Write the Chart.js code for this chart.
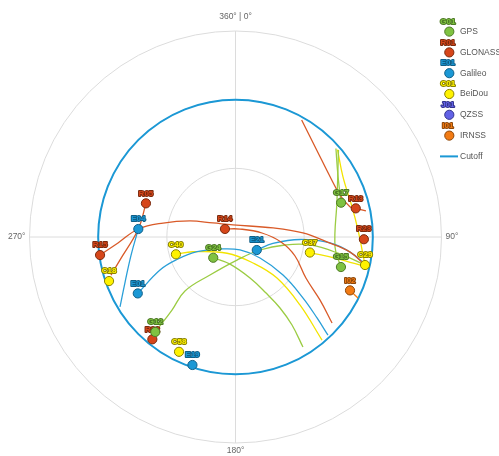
<!DOCTYPE html>
<html><head><meta charset="utf-8">
<script src="https://cdn.jsdelivr.net/npm/chart.js@4.4.0/dist/chart.umd.min.js"></script>
<style>html,body{margin:0;padding:0;background:#fff;}#wrap{width:499px;height:456px;position:relative;}</style>
</head><body><div id="wrap"><canvas id="c"></canvas></div>
<script>
// ---- systems / legend ----
const systemIds = ['G','R','E','C','J','I'];
const systemNames = ['GPS','GLONASS','Galileo','BeiDou','QZSS','IRNSS'];
const systemSamples = ['G01','R01','E01','C01','J01','I01'];
const systemFill = ['#7fc241','#d6461a','#1b98d5','#fff200','#6262e6','#f27b14'];
const systemStroke = ['#4d7a25','#7a2a0e','#105f87','#8a8200','#34348c','#8c4608'];
const systemTrack = ['#9bcc43','#d95a28','#2a9fd8','#f3e400','#6262e6','#f27b14'];
const directionLabels = ['360° | 0°','90°','180°','270°'];
const gridElevations = [0, 30, 60];
const cutoffElevation = 30;
const cutoffLabel = 'Cutoff';
const cutoffColor = '#1b98d5';

// ---- satellites (azimuth deg, elevation deg) ----
const satNames = ['R15','R05','E04','C18','E01','R14','C40','G24','E21','C37','G17','R13','R23','G15','C29','I02','R22','G12','C58','E19'];
const satAz    = [262.4,290.6,274.7,250.8,240.0,307.3,253.8,227.0,121.5,101.8, 72.0, 76.6, 91.0,105.9,102.2,115.0,219.1,220.2,206.2,198.6];
const satEl    = [ 30.3, 48.2, 47.4, 31.5, 40.7, 84.2, 62.9, 76.7, 79.1, 56.8, 41.5, 36.0, 33.9, 42.1, 32.1, 34.8, 32.4, 35.7, 34.1, 31.0];

// ---- tracks ----
const trkR15Az = [262.4,267.1,274.7,280.9,289.4,301.9,348.2,76.5,86.6,93.1,97.5,101.9];
const trkR15El = [30.3,38.6,47.4,57.8,68.9,78.4,84.6,73.1,60.5,50.0,39.5,32.6];
const trkR14Az = [307.3,29.4,81.4,96.3,107.7,120.2,126.7,131.7];
const trkR14El = [84.2,86.0,78.3,70.0,62.7,54.4,44.0,33.5];
const trkR05Az = [290.6,274.7,258.7,253.0];
const trkR05El = [48.2,47.4,38.5,33.1];
const trkR13Az = [29.5,43.0,57.5,68.1,75.2,76.6,78.7];
const trkR13El = [31.3,38.0,41.0,40.8,38.3,36.0,31.9];
const trkI02Az = [115.0,116.5];
const trkI02El = [34.8,30.2];
const trkE04Az = [274.7,260.2,247.8,238.8];
const trkE04El = [47.4,43.7,37.9,31.0];
const trkE01Az = [240.0,246.4,249.0,249.1,232.3,160.9,130.6,128.7,132.1,134.8,136.7];
const trkE01El = [40.7,54.0,62.6,72.0,81.4,84.0,75.9,63.4,50.2,39.8,31.1];
const trkE21Az = [121.5,99.8,92.2,93.6,97.5,102.4];
const trkE21El = [79.1,73.4,61.8,48.6,39.5,31.2];
const trkG24Az = [227.0,191.5,160.5,151.4,147.9,147.3,148.5];
const trkG24El = [76.7,77.9,71.0,62.1,53.4,44.3,33.6];
const trkG12Az = [220.2,221.0,223.1,213.9,176.3,118.0,99.2,96.1,99.2,102.0];
const trkG12El = [35.7,47.7,57.7,70.0,79.9,77.9,68.1,57.3,43.7,33.1];
const trkG17Az = [48.6,58.8,72.0];
const trkG17El = [31.5,37.7,41.5];
const trkG15Az = [49.8,70.0,95.7,105.9];
const trkG15El = [31.1,42.8,46.3,42.1];
const trkC40Az = [253.8,250.9,207.5,146.0,134.7,136.5,140.0];
const trkC40El = [62.9,70.3,82.0,76.3,64.5,49.1,31.2];
const trkC37Az = [101.8,102.0,102.9];
const trkC37El = [56.8,44.7,31.5];
const trkC29Az = [49.4,60.8,75.6,86.7,102.2];
const trkC29El = [31.3,36.2,37.4,36.4,32.1];

const tracks = [
  ['R',trkR15Az,trkR15El],['R',trkR14Az,trkR14El],['R',trkR05Az,trkR05El],['R',trkR13Az,trkR13El],
  ['I',trkI02Az,trkI02El],
  ['E',trkE04Az,trkE04El],['E',trkE01Az,trkE01El],['E',trkE21Az,trkE21El],
  ['G',trkG24Az,trkG24El],['G',trkG12Az,trkG12El],['G',trkG17Az,trkG17El],['G',trkG15Az,trkG15El],
  ['C',trkC40Az,trkC40El],['C',trkC37Az,trkC37El],['C',trkC29Az,trkC29El]
];

function toXY(az, el){
  const r = (90 - el) / 90, a = az * Math.PI / 180;
  return {x: r * Math.sin(a), y: r * Math.cos(a)};
}
function sysIndex(id){ return systemIds.indexOf(id); }

const datasets = [];
tracks.forEach(t => {
  const s = sysIndex(t[0]);
  datasets.push({
    data: t[1].map((a,i) => toXY(a, t[2][i])),
    showLine: true, borderColor: systemTrack[s], borderWidth: 1.3,
    pointRadius: 0, tension: 0.4, fill: false, order: 1000
  });
});
satNames.forEach((n,i) => {
  const s = sysIndex(n[0]);
  datasets.push({
    data: [toXY(satAz[i], satEl[i])],
    satLabel: n, sys: s,
    pointRadius: 4.6, pointBackgroundColor: systemFill[s], pointBorderColor: systemStroke[s],
    pointBorderWidth: 1, order: 500 - i
  });
});

function drawTag(ctx, text, x, y, s){
  ctx.save();
  ctx.font = 'bold 8px "Liberation Sans", Arial, sans-serif';
  ctx.textAlign = 'center'; ctx.textBaseline = 'middle';
  ctx.lineJoin = 'round'; ctx.lineWidth = 2; ctx.strokeStyle = systemStroke[s];
  ctx.strokeText(text, x, y);
  ctx.fillStyle = systemFill[s];
  ctx.fillText(text, x, y);
  ctx.restore();
}

const skyPlugin = {
  id: 'sky',
  beforeDatasetsDraw(chart){
    const ctx = chart.ctx, xs = chart.scales.x, ys = chart.scales.y;
    const cx = xs.getPixelForValue(0), cy = ys.getPixelForValue(0);
    const R = xs.getPixelForValue(1) - cx;
    ctx.save();
    ctx.strokeStyle = '#dcdcdc'; ctx.lineWidth = 1;
    gridElevations.forEach(e => {
      ctx.beginPath(); ctx.arc(cx, cy, xs.getPixelForValue((90-e)/90) - cx, 0, Math.PI*2); ctx.stroke();
    });
    ctx.beginPath();
    ctx.moveTo(cx, cy - R); ctx.lineTo(cx, cy + R);
    ctx.moveTo(cx - R, cy); ctx.lineTo(cx + R, cy);
    ctx.stroke();
    ctx.strokeStyle = cutoffColor; ctx.lineWidth = 2;
    ctx.beginPath(); ctx.arc(cx, cy, xs.getPixelForValue((90-cutoffElevation)/90) - cx, 0, Math.PI*2); ctx.stroke();
    ctx.restore();
  },
  afterDatasetDraw(chart, args){
    const ds = chart.data.datasets[args.index];
    if (!ds.satLabel) return;
    const pt = args.meta.data[0];
    drawTag(chart.ctx, ds.satLabel, pt.x, pt.y - 10, ds.sys);
  },
  afterDraw(chart){
    const ctx = chart.ctx, xs = chart.scales.x, ys = chart.scales.y;
    const cx = xs.getPixelForValue(0), cy = ys.getPixelForValue(0);
    const R = xs.getPixelForValue(1) - cx;
    ctx.save();
    ctx.fillStyle = '#666'; ctx.font = '8.5px "Liberation Sans", Arial, sans-serif';
    ctx.textBaseline = 'middle';
    ctx.textAlign = 'center'; ctx.fillText(directionLabels[0], cx, cy - R - 14);
    ctx.textAlign = 'left'; ctx.fillText(directionLabels[1], cx + R + 4, cy);
    ctx.textAlign = 'center'; ctx.fillText(directionLabels[2], cx, cy + R + 8);
    ctx.textAlign = 'right'; ctx.fillText(directionLabels[3], cx - R - 4, cy);
    // legend
    const lx = 449.3, ly0 = 31.6, step = 20.8;
    systemNames.forEach((name, i) => {
      const y = ly0 + i * step;
      drawTag(ctx, systemSamples[i], lx - 1.5, y - 10, i);
      ctx.beginPath(); ctx.arc(lx, y, 4.6, 0, Math.PI*2);
      ctx.fillStyle = systemFill[i]; ctx.fill();
      ctx.lineWidth = 1; ctx.strokeStyle = systemStroke[i]; ctx.stroke();
      ctx.fillStyle = '#555'; ctx.font = '8.5px "Liberation Sans", Arial, sans-serif';
      ctx.textAlign = 'left'; ctx.textBaseline = 'middle';
      ctx.fillText(name, 460, y);
    });
    const cyL = ly0 + 6 * step;
    ctx.strokeStyle = cutoffColor; ctx.lineWidth = 2;
    ctx.beginPath(); ctx.moveTo(440, cyL); ctx.lineTo(458, cyL); ctx.stroke();
    ctx.fillStyle = '#555'; ctx.fillText(cutoffLabel, 460, cyL);
    ctx.restore();
  }
};

new Chart(document.getElementById('c'), {
  type: 'scatter',
  data: { datasets },
  options: {
    responsive: true, maintainAspectRatio: false, animation: false,
    layout: { padding: { left: 29.5, top: 31, right: 57.5, bottom: 13 } },
    scales: {
      x: { type: 'linear', min: -1, max: 1, display: false },
      y: { type: 'linear', min: -1, max: 1, display: false }
    },
    plugins: { legend: { display: false }, tooltip: { enabled: false } }
  },
  plugins: [skyPlugin]
});
</script></body></html>
